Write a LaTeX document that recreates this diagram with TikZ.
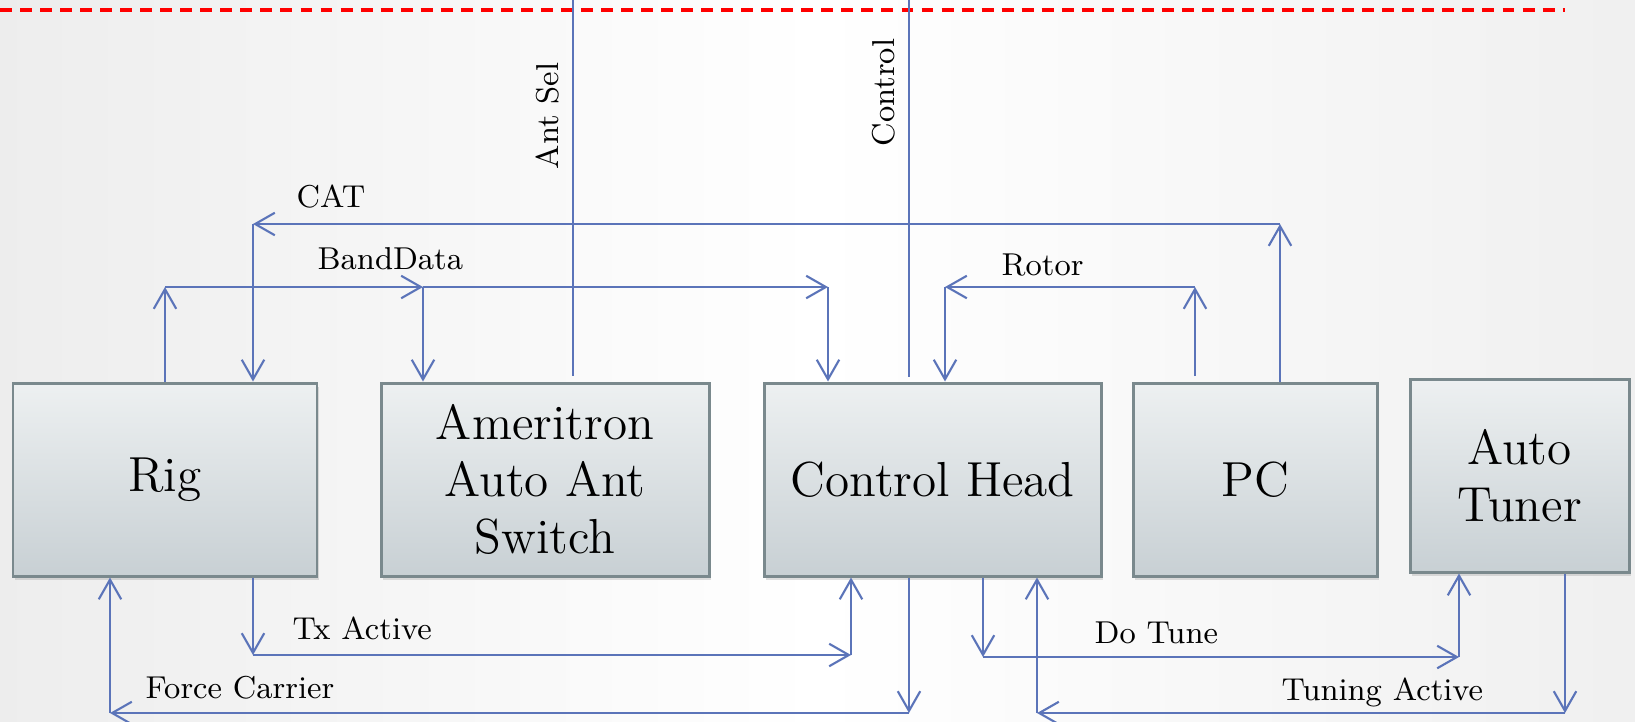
\documentclass[tikz,border=0pt]{standalone}
\usetikzlibrary{arrows.meta,shadows}

\definecolor{linkblue}{HTML}{5B74B9}
\definecolor{boxedge}{HTML}{7A898D}
\definecolor{boxtop}{HTML}{EDF0F1}
\definecolor{boxbot}{HTML}{C8D0D4}

\begin{document}
\begin{tikzpicture}[
  box/.style={
    minimum height=1.93cm, inner sep=2pt,
    draw=boxedge, line width=0.85pt,
    top color=boxtop, bottom color=boxbot,
    drop shadow={shadow xshift=0.5pt, shadow yshift=-1.2pt, opacity=0.25},
    align=center, font=\fontsize{14}{16.2}\selectfont
  },
  link/.style={draw=linkblue, line width=0.6pt},
  tip/.style={-{Straight Barb[length=5.6pt,width=6.4pt,line width=0.6pt]}},
  lbl/.style={font=\fontsize{9}{11}\selectfont, inner sep=0pt, anchor=base west}
]

\useasboundingbox (0,0) rectangle (16.35,-7.21);
\shade[left color=black!7, right color=black!6, middle color=white] (0,0) rectangle (16.35,-7.21);

% ================= BOXES =================
\node[box, minimum width=3.04cm] (rig)   at (1.65,-4.795)   {Rig};
\node[box, minimum width=3.28cm] (amer)  at (5.45,-4.795)   {Ameritron\\Auto Ant\\Switch};
\node[box, minimum width=3.37cm] (head)  at (9.325,-4.795)  {Control Head};
\node[box, minimum width=2.44cm] (pc)    at (12.55,-4.795)  {PC};
\node[box, minimum width=2.19cm] (tuner) at (15.195,-4.755) {Auto\\Tuner};

% ================= TOP =================
\coordinate (edge-l) at (0,-0.10);
\coordinate (edge-r) at (15.65,-0.10);
\draw[red, line width=0.9pt, dash pattern=on 3.4pt off 2.3pt] (edge-l) -- (edge-r);

% ant sel / control
\coordinate (ant-top) at (5.73,0);
\coordinate (ctl-top) at (9.09,0);
\draw[link, shorten >=1.6pt] (ant-top) -- (ant-top |- amer.north);
\draw[link, shorten >=1.2pt] (ctl-top) -- (ctl-top |- head.north);
\node[lbl, rotate=90] (antsel-lbl) at (5.58,-1.70) {Ant Sel};
\node[lbl, rotate=90] (ctl-lbl)    at (8.94,-1.47) {Control};

% CAT
\coordinate (cat-l) at (2.53,-2.24);
\coordinate (cat-r) at (12.80,-2.24);
\draw[link, tip] (pc.north -| cat-r) -- (cat-r);
\draw[link, tip] (cat-r) -- (cat-l);
\draw[link, tip] (cat-l) -- (cat-l |- rig.north);
\node[lbl] (cat-lbl) at (2.96,-2.07) {CAT};

% BandData
\coordinate (bd-l) at (1.65,-2.87);
\coordinate (bd-m) at (4.23,-2.87);
\coordinate (bd-r) at (8.28,-2.87);
\draw[link, tip] (rig.north) -- (bd-l);
\draw[link, tip] (bd-l) -- (bd-m);
\draw[link, tip] (bd-m) -- (bd-m |- amer.north);
\draw[link, tip] (bd-m) -- (bd-r);
\draw[link, tip] (bd-r) -- (bd-r |- head.north);
\node[lbl] (bd-lbl) at (3.17,-2.69) {BandData};

% Rotor
\coordinate (rot-l) at (9.45,-2.87);
\coordinate (rot-r) at (11.95,-2.87);
\draw[link, tip, shorten <=1.5pt] (pc.north -| rot-r) -- (rot-r);
\draw[link, tip] (rot-r) -- (rot-l);
\draw[link, tip] (rot-l) -- (rot-l |- head.north);
\node[lbl] (rot-lbl) at (10.01,-2.75) {Rotor};

% ================= BOTTOM =================
% Tx Active
\coordinate (tx-l) at (2.53,-6.55);
\coordinate (tx-r) at (8.51,-6.55);
\draw[link, tip] (rig.south -| tx-l) -- (tx-l);
\draw[link, tip] (tx-l) -- (tx-r);
\draw[link, tip] (tx-r) -- (tx-r |- head.south);
\node[lbl] (tx-lbl) at (2.92,-6.39) {Tx Active};

% Force Carrier
\coordinate (fc-l) at (1.10,-7.13);
\coordinate (fc-r) at (9.09,-7.13);
\draw[link, tip] (head.south -| fc-r) -- (fc-r);
\draw[link, tip] (fc-r) -- (fc-l);
\draw[link, tip] (fc-l) -- (fc-l |- rig.south);
\node[lbl] (fc-lbl) at (1.45,-6.98) {Force Carrier};

% Do Tune
\coordinate (dt-l) at (9.83,-6.57);
\coordinate (dt-r) at (14.59,-6.57);
\draw[link, tip] (head.south -| dt-l) -- (dt-l);
\draw[link, tip] (dt-l) -- (dt-r);
\draw[link, tip] (dt-r) -- (dt-r |- tuner.south);
\node[lbl] (dt-lbl) at (10.94,-6.43) {Do Tune};

% Tuning Active
\coordinate (ta-l) at (10.37,-7.13);
\coordinate (ta-r) at (15.65,-7.13);
\draw[link, tip] (tuner.south -| ta-r) -- (ta-r);
\draw[link, tip] (ta-r) -- (ta-l);
\draw[link, tip] (ta-l) -- (ta-l |- head.south);
\node[lbl] (ta-lbl) at (12.81,-7.00) {Tuning Active};

\end{tikzpicture}
\end{document}
